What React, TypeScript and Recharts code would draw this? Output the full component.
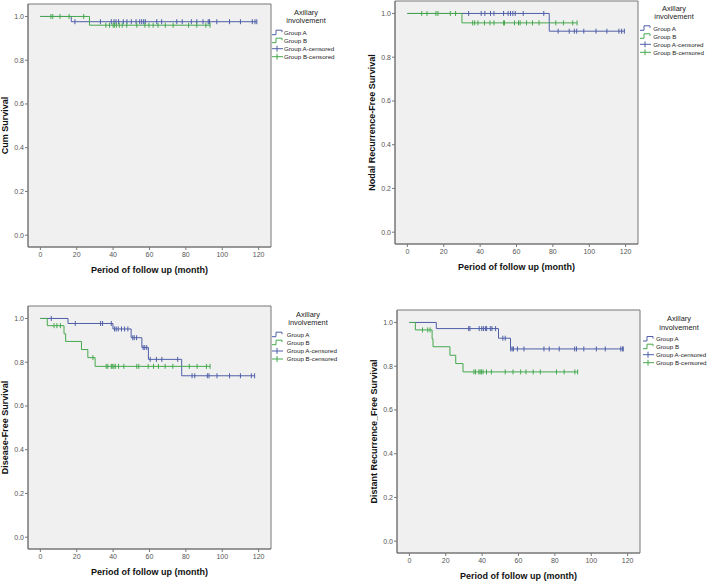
import React from "react";
import {
  CartesianGrid,
  ComposedChart,
  Line,
  ReferenceArea,
  Scatter,
  XAxis,
  YAxis
} from "recharts";

const BLUE = "#4f5fa8";
const GREEN = "#44a84d";

const X_TICKS = [0, 20, 40, 60, 80, 100, 120];
const Y_TICKS = [0, 0.2, 0.4, 0.6, 0.8, 1.0];
const LEGEND_TITLE = ["Axillary", "involvement"];
const LEGEND_ITEMS = ["Group A", "Group B", "Group A-censored", "Group B-censored"];

// Cum Survival
const osEventsA = [0, 17];
const osSurvA = [1, 0.976];
const osEndA = 119;
const osCensA = [19, 33, 39, 40.5, 41.6, 43, 45.6, 47.6, 50, 52.6, 54.6, 55.7, 56.8, 57.7, 64, 66.7, 75, 78, 83, 86, 89.4, 92.3, 93, 97, 104, 110, 116.5, 118, 119];
const osEventsB = [0, 27];
const osSurvB = [1, 0.96];
const osEndB = 93.3;
const osCensB = [5.8, 6.8, 10.8, 15.8, 23.8, 36, 38, 40, 40.7, 41.8, 43.4, 45, 47.5, 53, 57.5, 59.7, 62, 64.7, 68.7, 73, 81.5, 86, 91, 93.3];

// Nodal Recurrence-Free Survival
const nrfsEventsA = [0, 78];
const nrfsSurvA = [1, 0.919];
const nrfsEndA = 119.3;
const nrfsCensA = [33.7, 40.6, 42.6, 45.7, 47.6, 52.9, 55.4, 56.7, 58, 59.3, 63.7, 75, 82.9, 89, 91.8, 93.1, 97, 103.7, 109.7, 116.3, 117.8, 119.3];
const nrfsEventsB = [0, 30];
const nrfsSurvB = [1, 0.957];
const nrfsEndB = 93.3;
const nrfsCensB = [7.9, 10.8, 15.7, 16.8, 23.6, 26.5, 35.9, 37, 38.8, 42.4, 45.4, 47.6, 52.9, 53.4, 58.9, 61.1, 62, 65.5, 68.8, 72.4, 81.6, 85.8, 90.9, 93.3];

// Disease-Free Survival
const dfsEventsA = [0, 15.2, 39.9, 49.9, 55.8, 59.4, 77.7];
const dfsSurvA = [1, 0.977, 0.952, 0.912, 0.867, 0.813, 0.738];
const dfsEndA = 117.8;
const dfsCensA = [6, 19.2, 33.1, 34.2, 39, 40.8, 41.7, 42.8, 44.6, 46.3, 48.1, 50.8, 51.6, 52.9, 56.5, 57.4, 58.5, 60.4, 63.8, 66.8, 75.5, 83.4, 84.9, 91.8, 92.7, 97.1, 104, 110, 116, 117.8];
const dfsEventsB = [0, 3.8, 13, 13.9, 22.6, 26.1, 30.1];
const dfsSurvB = [1, 0.967, 0.93, 0.895, 0.858, 0.821, 0.781];
const dfsEndB = 93.3;
const dfsCensB = [7.5, 9.1, 11, 28.9, 36.2, 37.1, 39, 39.5, 40.4, 41.2, 43, 45.9, 53, 54.1, 59.3, 62.2, 64.9, 68.6, 72.8, 81.9, 86.2, 91.3, 93.3];

// Distant Recurrence_Free Survival
const drfsEventsA = [0, 14.8, 49, 55.6];
const drfsSurvA = [1, 0.972, 0.928, 0.879];
const drfsEndA = 117.6;
const drfsCensA = [32.6, 33.3, 38.4, 39.8, 40.7, 41.8, 42.5, 44.5, 45.4, 47.4, 51.4, 52.7, 55.7, 56.5, 57.2, 59.4, 63, 74, 76.9, 82.4, 90.9, 91.9, 95.9, 102.8, 107.7, 116.2, 117.1, 117.6];
const drfsEventsB = [0, 3.3, 12.5, 13, 22.3, 25.5, 29.5];
const drfsSurvB = [1, 0.966, 0.925, 0.889, 0.85, 0.812, 0.774];
const drfsEndB = 92.5;
const drfsCensB = [7.2, 10.1, 11.4, 35.5, 36.4, 38.2, 38.9, 39.6, 40.5, 42.4, 45.1, 52.7, 57, 61.2, 64.1, 68.1, 72, 80.9, 85.1, 91, 92.5];

type Pt = { t: number; s: number };

function stepData(events: number[], surv: number[], end: number): Pt[] {
  const pts = events.map((t, i) => ({ t, s: surv[i] }));
  pts.push({ t: end, s: surv[surv.length - 1] });
  return pts;
}

function survAt(events: number[], surv: number[], t: number): number {
  let s = surv[0];
  events.forEach((e, i) => {
    if (e <= t) s = surv[i];
  });
  return s;
}

function censorData(events: number[], surv: number[], times: number[]): Pt[] {
  return times.map((t) => ({ t, s: survAt(events, surv, t) }));
}

const X_DOMAIN: [number, number] = [-6.8, 126.8];
const Y_DOMAIN: [number, number] = [-0.054, 1.057];

function censorMark(color: string) {
  return (props: any) => {
    const { cx, cy } = props;
    return <line x1={cx} x2={cx} y1={cy - 2.5} y2={cy + 2.5} stroke={color} strokeWidth={1} />;
  };
}

type PanelProps = {
  left: number;
  top: number;
  yLabel: string;
  stepA: Pt[];
  stepB: Pt[];
  censA: Pt[];
  censB: Pt[];
};

function KmPanel({ left, top, yLabel, stepA, stepB, censA, censB }: PanelProps) {
  return (
    <div style={{ position: "absolute", left, top }}>
      <ComposedChart width={273} height={281} margin={{ top: 4, right: 2, bottom: 0, left: 0 }}>
        <CartesianGrid fill="#f0f0f0" horizontal={false} vertical={false} />
        <XAxis
          dataKey="t"
          type="number"
          domain={X_DOMAIN}
          ticks={X_TICKS}
          allowDataOverflow
          height={34}
          tickSize={3}
          tickMargin={2}
          axisLine={{ stroke: "#777" }}
          tickLine={{ stroke: "#777" }}
          tick={{ fontSize: 7, fill: "#555" }}
          label={{
            value: "Period of follow up (month)",
            position: "insideBottom",
            offset: 8,
            style: { fontSize: 9, fontWeight: "bold", fill: "#111" }
          }}
        />
        <YAxis
          dataKey="s"
          type="number"
          domain={Y_DOMAIN}
          ticks={Y_TICKS}
          allowDataOverflow
          width={28}
          tickSize={3}
          tickMargin={1}
          tickFormatter={(v: number) => v.toFixed(1)}
          axisLine={{ stroke: "#777" }}
          tickLine={{ stroke: "#777" }}
          tick={{ fontSize: 7, fill: "#555" }}
          label={{
            value: yLabel,
            angle: -90,
            position: "insideLeft",
            offset: 5,
            style: { textAnchor: "middle", fontSize: 9, fontWeight: "bold", fill: "#111" }
          }}
        />
        <ReferenceArea
          x1={X_DOMAIN[0]}
          x2={X_DOMAIN[1]}
          y1={Y_DOMAIN[0]}
          y2={Y_DOMAIN[1]}
          fill="none"
          stroke="#777"
          strokeWidth={1}
        />
        <Line data={stepA} dataKey="s" type="stepAfter" stroke={BLUE} strokeWidth={1} dot={false} activeDot={false} isAnimationActive={false} />
        <Scatter data={censA} dataKey="s" shape={censorMark(BLUE)} isAnimationActive={false} />
        <Line data={stepB} dataKey="s" type="stepAfter" stroke={GREEN} strokeWidth={1} dot={false} activeDot={false} isAnimationActive={false} />
        <Scatter data={censB} dataKey="s" shape={censorMark(GREEN)} isAnimationActive={false} />
      </ComposedChart>
    </div>
  );
}

type LegendProps = { iconX: number; textX: number; titleX: number; titleY: number[]; rowY: number[] };

function KmLegend({ iconX, textX, titleX, titleY, rowY }: LegendProps) {
  const colors = [BLUE, GREEN, BLUE, GREEN];
  return (
    <>
      {LEGEND_TITLE.map((line, i) => (
        <text key={line} x={titleX} y={titleY[i] + 2.6} textAnchor="middle" fontSize={7.4} fill="#222">
          {line}
        </text>
      ))}
      {LEGEND_ITEMS.map((item, i) => {
        const y = rowY[i];
        const c = colors[i];
        return (
          <g key={item}>
            {i < 2 ? (
              <path d={`M${iconX} ${y + 2} H${iconX + 4} V${y - 2.5} H${iconX + 10} V${y - 0.5}`} fill="none" stroke={c} strokeWidth={1} />
            ) : (
              <>
                <line x1={iconX} x2={iconX + 11} y1={y} y2={y} stroke={c} strokeWidth={1} />
                <line x1={iconX + 5} x2={iconX + 5} y1={y - 3} y2={y + 3} stroke={c} strokeWidth={1} />
              </>
            )}
            <text x={textX} y={y + 2.2} fontSize={6.2} fill="#222">
              {item}
            </text>
          </g>
        );
      })}
    </>
  );
}

export default function App() {
  return (
    <div
      style={{
        position: "fixed",
        left: 0,
        top: 0,
        width: 709,
        height: 582,
        background: "#fff",
        overflow: "hidden",
        fontFamily: "'Liberation Sans', Arial, sans-serif"
      }}
    >
      <KmPanel
        left={0}
        top={0}
        yLabel="Cum Survival"
        stepA={stepData(osEventsA, osSurvA, osEndA)}
        stepB={stepData(osEventsB, osSurvB, osEndB)}
        censA={censorData(osEventsA, osSurvA, osCensA)}
        censB={censorData(osEventsB, osSurvB, osCensB)}
      />
      <KmPanel
        left={367.3}
        top={-3.4}
        yLabel="Nodal Recurrence-Free Survival"
        stepA={stepData(nrfsEventsA, nrfsSurvA, nrfsEndA)}
        stepB={stepData(nrfsEventsB, nrfsSurvB, nrfsEndB)}
        censA={censorData(nrfsEventsA, nrfsSurvA, nrfsCensA)}
        censB={censorData(nrfsEventsB, nrfsSurvB, nrfsCensB)}
      />
      <KmPanel
        left={0.3}
        top={301.7}
        yLabel="Disease-Free Survival"
        stepA={stepData(dfsEventsA, dfsSurvA, dfsEndA)}
        stepB={stepData(dfsEventsB, dfsSurvB, dfsEndB)}
        censA={censorData(dfsEventsA, dfsSurvA, dfsCensA)}
        censB={censorData(dfsEventsB, dfsSurvB, dfsCensB)}
      />
      <KmPanel
        left={369.3}
        top={306}
        yLabel="Distant Recurrence_Free Survival"
        stepA={stepData(drfsEventsA, drfsSurvA, drfsEndA)}
        stepB={stepData(drfsEventsB, drfsSurvB, drfsEndB)}
        censA={censorData(drfsEventsA, drfsSurvA, drfsCensA)}
        censB={censorData(drfsEventsB, drfsSurvB, drfsCensB)}
      />
      <svg width={709} height={582} style={{ position: "absolute", left: 0, top: 0, pointerEvents: "none" }}>
        <KmLegend iconX={272} textX={284} titleX={306} titleY={[12.3, 20.5]} rowY={[32.7, 40.7, 48.7, 56.7]} />
        <KmLegend iconX={640} textX={653.3} titleX={674} titleY={[8.2, 16.4]} rowY={[28.3, 36.3, 44.3, 52.3]} />
        <KmLegend iconX={272} textX={286.7} titleX={308} titleY={[314.5, 322.7]} rowY={[334.7, 342.7, 351, 359]} />
        <KmLegend iconX={643} textX={656} titleX={679} titleY={[318.8, 327]} rowY={[339, 346.7, 354.7, 362.7]} />
      </svg>
    </div>
  );
}
